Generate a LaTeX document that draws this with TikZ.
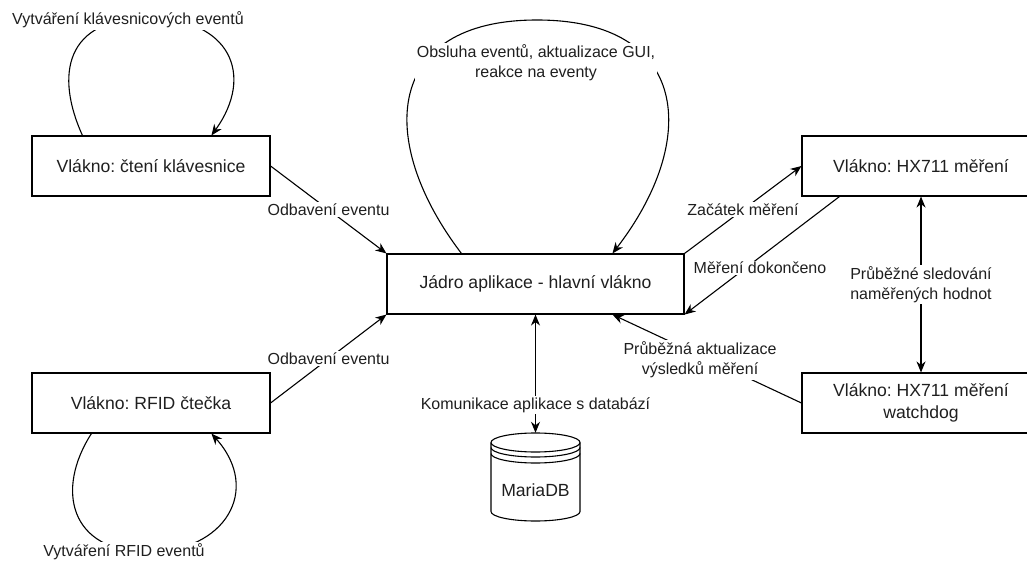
\documentclass[tikz,border=0pt]{standalone}
\usepackage{fontspec}
\setmainfont{Liberation Sans}
\usetikzlibrary{arrows.meta,calc}
\newcommand{\myboxfont}{\fontsize{17.6}{22}\selectfont}
\newcommand{\mylblfont}{\fontsize{16}{20}\selectfont}
\frenchspacing
\begin{document}
\begin{tikzpicture}[x=1pt,y=-1pt,
  box/.style={draw, line width=1.1pt, minimum height=60pt, inner sep=2pt, align=center, font=\myboxfont, text=black!88},
  lbl/.style={fill=white, inner sep=1.5pt, align=center, font=\mylblfont, text=black!88},
  tip/.tip={Stealth[length=11pt,width=9pt,inset=3.5pt]},
  arr/.style={line width=1.1pt, -tip},
  darr/.style={line width=1.1pt, tip-tip},
  ln/.style={line width=1.1pt}]
\useasboundingbox (0,0) rectangle (1027,561);

% boxes
\node[box, minimum width=238pt] (kb) at (151,166) {Vlákno: čtení klávesnice};
\node[box, minimum width=238pt] (rfid) at (151,403) {Vlákno: RFID čtečka};
\node[box, minimum width=297pt] (main) at (535.5,284) {Jádro aplikace - hlavní vlákno};
\node[box, minimum width=238pt] (hx) at (921,166) {Vlákno: HX711 měření};
\node[box, minimum width=238pt] (wd) at (921,403) {Vlákno: HX711 měření\\watchdog};

% database cylinder
\node[minimum width=89pt, minimum height=88pt, inner sep=0pt] (db) at (535.5,477) {};
\fill[white] (491,442.5) -- (491,511.5) .. controls (491,516.75) and (510.9,521) .. (535.5,521)
  .. controls (560.1,521) and (580,516.75) .. (580,511.5) -- (580,442.5)
  .. controls (580,437.25) and (560.1,433) .. (535.5,433) .. controls (510.9,433) and (491,437.25) .. (491,442.5);
\draw[ln] (535.5,442.5) ellipse [x radius=44.5, y radius=9.5];
\draw[ln] (491,447.5) .. controls (491,452.75) and (510.9,457) .. (535.5,457) .. controls (560.1,457) and (580,452.75) .. (580,447.5);
\draw[ln] (491,453.5) .. controls (491,458.75) and (510.9,463) .. (535.5,463) .. controls (560.1,463) and (580,458.75) .. (580,453.5);
\draw[ln] (491,442.5) -- (491,511.5) .. controls (491,516.75) and (510.9,521) .. (535.5,521)
  .. controls (560.1,521) and (580,516.75) .. (580,511.5) -- (580,442.5);
\node[font=\myboxfont, text=black!88] (dbt) at (535.5,490) {MariaDB};

% self loops
\coordinate (kbL) at ($(kb.north west)+(51,0)$);
\coordinate (kbR) at ($(kb.north west)+(180,0)$);
\draw[arr] (kbL) .. controls (55,75) and (65,18) .. (148,18) .. controls (230,18) and (255,75) .. (kbR);
\node[lbl] (kbl) at (128,20) {Vytváření klávesnicových eventů};

\coordinate (mL) at ($(main.north west)+(75,0)$);
\coordinate (mR) at ($(main.north west)+(226,0)$);
\draw[arr] (mL) .. controls (375,140) and (385,20) .. (537,20) .. controls (690,20) and (700,140) .. (mR);
\node[lbl] (ml) at (536,63) {Obsluha eventů, aktualizace GUI,\\reakce na eventy};

\coordinate (rL) at ($(rfid.south west)+(60,0)$);
\coordinate (rR) at ($(rfid.south west)+(180,0)$);
\draw[arr] (rL) .. controls (55,490) and (70,552) .. (148,552) .. controls (225,552) and (262,490) .. (rR);
\node[lbl] (rl) at (124,552) {Vytváření RFID eventů};

% straight connectors
\draw[arr] (kb.east) -- node[lbl]{Odbavení eventu} (main.north west);
\draw[arr] (rfid.east) -- node[lbl]{Odbavení eventu} (main.south west);
\draw[arr] (main.north east) -- node[lbl]{Začátek měření} (hx.west);
\coordinate (hxB) at ($(hx.south west)+(38,0)$);
\draw[arr] (hxB) -- (main.south east);
\node[lbl] at (760,268) {Měření dokončeno};
\draw[darr] (hx.south) -- node[lbl]{Průběžné sledování\\naměřených hodnot} (wd.north);
\coordinate (mB) at ($(main.south west)+(226,0)$);
\draw[arr] (wd.west) -- (mB);
\node[lbl] at (700,360) {Průběžná aktualizace\\výsledků měření};
\draw[darr] (main.south) -- (db.north);
\node[lbl] at (535.5,405) {Komunikace aplikace s databází};
\end{tikzpicture}
\end{document}
